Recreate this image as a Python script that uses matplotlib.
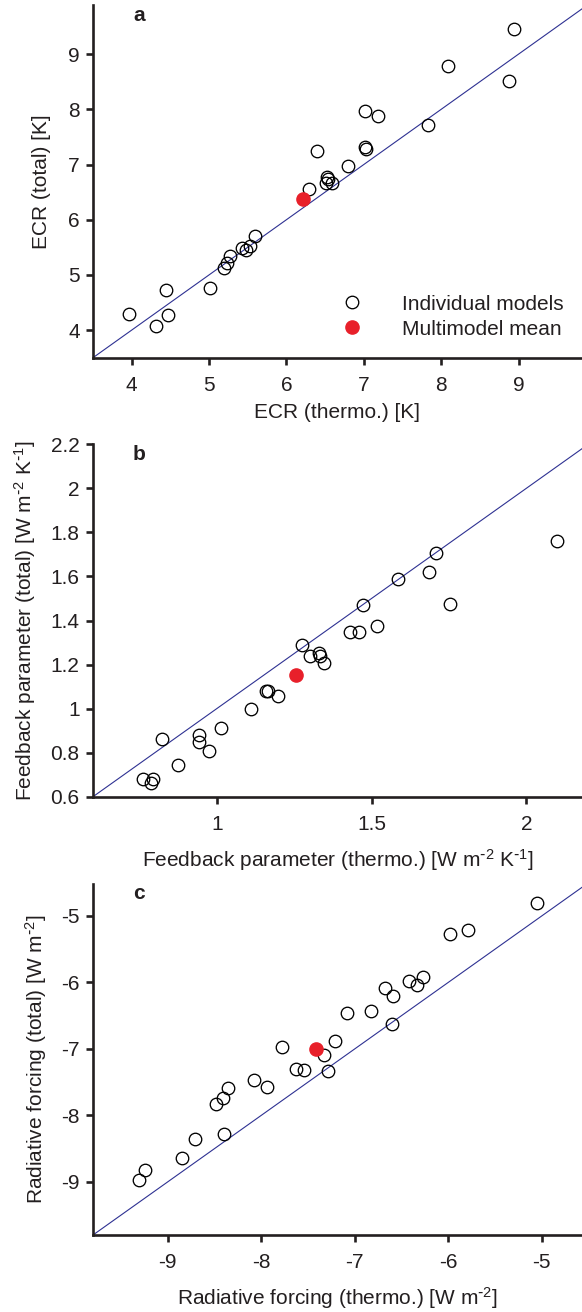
import matplotlib
matplotlib.use("Agg")
import matplotlib.pyplot as plt
from matplotlib.lines import Line2D

plt.rcParams['font.family'] = ['Liberation Sans', 'DejaVu Sans']
plt.rcParams['mathtext.default'] = 'regular'

# ---------------- data ----------------
ecr_thermo = [8.94, 8.09, 8.88, 7.01, 7.18, 7.83, 7.02, 7.03, 6.40, 6.80,
              6.52, 6.54, 6.51, 6.59, 6.29, 5.60, 5.53, 5.42, 5.48, 5.27,
              5.23, 5.19, 5.01, 4.44, 4.47, 3.97, 4.31]
ecr_total = [9.45, 8.78, 8.52, 7.97, 7.88, 7.72, 7.31, 7.29, 7.25, 6.97,
             6.78, 6.73, 6.67, 6.66, 6.55, 5.70, 5.53, 5.48, 5.45, 5.35,
             5.22, 5.13, 4.76, 4.73, 4.28, 4.30, 4.08]
ecr_mean = (6.21, 6.38)

fb_thermo = [2.10, 1.709, 1.687, 1.754, 1.587, 1.473, 1.517, 1.461, 1.430, 1.274,
             1.301, 1.329, 1.333, 1.345, 1.159, 1.166, 1.198, 1.109, 1.014, 0.941,
             0.941, 0.976, 0.822, 0.875, 0.763, 0.795, 0.789]
fb_total = [1.763, 1.708, 1.619, 1.474, 1.589, 1.471, 1.377, 1.349, 1.346, 1.289,
            1.238, 1.254, 1.238, 1.206, 1.081, 1.081, 1.059, 1.000, 0.913, 0.880,
            0.850, 0.806, 0.860, 0.745, 0.682, 0.682, 0.661]
fb_mean = (1.255, 1.154)

rf_thermo = [-5.056, -5.787, -5.986, -6.272, -6.423, -6.336, -6.674, -6.594, -6.829, -7.087,
             -6.606, -7.207, -7.334, -7.287, -7.781, -7.630, -7.547, -8.083, -7.942, -8.352,
             -8.412, -8.487, -8.396, -8.710, -8.845, -9.239, -9.310]
rf_total = [-4.80, -5.205, -5.275, -5.915, -5.98, -6.045, -6.085, -6.20, -6.435, -6.465,
            -6.62, -6.875, -7.085, -7.335, -6.965, -7.305, -7.315, -7.465, -7.575, -7.59,
            -7.735, -7.83, -8.28, -8.35, -8.635, -8.815, -8.98]
rf_mean = (-7.416, -7.005)

panel_letters = ['a', 'b', 'c']
xlabels = ['ECR (thermo.) [K]',
           r'Feedback parameter (thermo.) [W m$^{\text{-}2}$ K$^{\text{-}1}$]',
           r'Radiative forcing (thermo.) [W m$^{\text{-}2}$]']
ylabels = ['ECR (total) [K]',
           r'Feedback parameter (total) [W m$^{\text{-}2}$ K$^{\text{-}1}$]',
           r'Radiative forcing (total) [W m$^{\text{-}2}$]']
xticks = [[4, 5, 6, 7, 8, 9], [1, 1.5, 2], [-9, -8, -7, -6, -5]]
xticklabels = [['4', '5', '6', '7', '8', '9'], ['1', '1.5', '2'], ['-9', '-8', '-7', '-6', '-5']]
yticks = [[4, 5, 6, 7, 8, 9], [0.6, 0.8, 1.0, 1.2, 1.4, 1.6, 1.8, 2.0, 2.2], [-9, -8, -7, -6, -5]]
yticklabels = [['4', '5', '6', '7', '8', '9'],
               ['0.6', '0.8', '1', '1.2', '1.4', '1.6', '1.8', '2', '2.2'],
               ['-9', '-8', '-7', '-6', '-5']]
legend_labels = ['Individual models', 'Multimodel mean']

# ---------------- layout ----------------
W, H = 582, 1312
fig = plt.figure(figsize=(W / 100, H / 100), dpi=100)
fig.patch.set_facecolor('white')

# (left, top, bottom) in pixels
boxes = [(93, 5, 357.7), (93, 444.3, 796.7), (93, 884, 1235)]
xlims = [(3.5, 9.82), (0.6, 2.18), (-9.8, -4.57)]
ylims = [(3.5, 9.89), (0.6, 2.2), (-9.8, -4.52)]
xlabel_off = [55, 63, 63]      # px below spine to label centre
ylabel_x = [42, 25, 36]        # px of ylabel centre

data = [(ecr_thermo, ecr_total, ecr_mean),
        (fb_thermo, fb_total, fb_mean),
        (rf_thermo, rf_total, rf_mean)]

dark = '#231f20'
red = '#e8202a'
blue = '#2e3192'
FS = 15

for i in range(3):
    l, t, b = boxes[i]
    ax = fig.add_axes([l / W, 1 - b / H, 1 - l / W, (b - t) / H])
    xs, ys, mean = data[i]
    ax.axline((0, 0), slope=1, color=blue, lw=0.8, zorder=1)
    ax.plot(xs, ys, linestyle='none', marker='o', ms=9, mfc='none',
            mec='black', mew=0.95, zorder=2, clip_on=False)
    ax.plot([mean[0]], [mean[1]], linestyle='none', marker='o', ms=9.5,
            mfc=red, mec=red, zorder=3)
    ax.set_xlim(*xlims[i])
    ax.set_ylim(*ylims[i])
    for s in ['top', 'right']:
        ax.spines[s].set_visible(False)
    for s in ['left', 'bottom']:
        ax.spines[s].set_linewidth(1.9)
        ax.spines[s].set_color(dark)
    ax.set_xticks(xticks[i])
    ax.set_xticklabels(xticklabels[i])
    ax.set_yticks(yticks[i])
    ax.set_yticklabels(yticklabels[i])
    ax.tick_params(axis='both', direction='out', length=5, width=1.9,
                   color=dark, labelsize=FS, labelcolor=dark)
    ax.tick_params(axis='x', pad=8.0)
    ax.tick_params(axis='y', pad=4.6)
    ax.set_xlabel(xlabels[i], fontsize=FS, color=dark, va='center')
    ax.set_ylabel(ylabels[i], fontsize=FS, color=dark, va='center')
    ax.xaxis.set_label_coords(0.5, -xlabel_off[i] / (b - t))
    ax.yaxis.set_label_coords((ylabel_x[i] - l) / (W - l), 0.5)
    ax.text(0.094, 0.956, panel_letters[i], transform=ax.transAxes,
            fontsize=15, fontweight='bold', ha='center', va='baseline', color=dark)
    if i == 0:
        handles = [Line2D([], [], linestyle='none', marker='o', ms=9, mfc='none',
                          mec='black', mew=0.95),
                   Line2D([], [], linestyle='none', marker='o', ms=9.5, mfc=red,
                          mec=red)]
        ax.legend(handles, legend_labels, frameon=False, fontsize=FS,
                  loc='lower left', bbox_to_anchor=(0.47, 0.03),
                  handlelength=2.0, handletextpad=1.4, labelspacing=0.3,
                  borderaxespad=0, labelcolor=dark)

fig.savefig('out.png', dpi=100, facecolor='white')
